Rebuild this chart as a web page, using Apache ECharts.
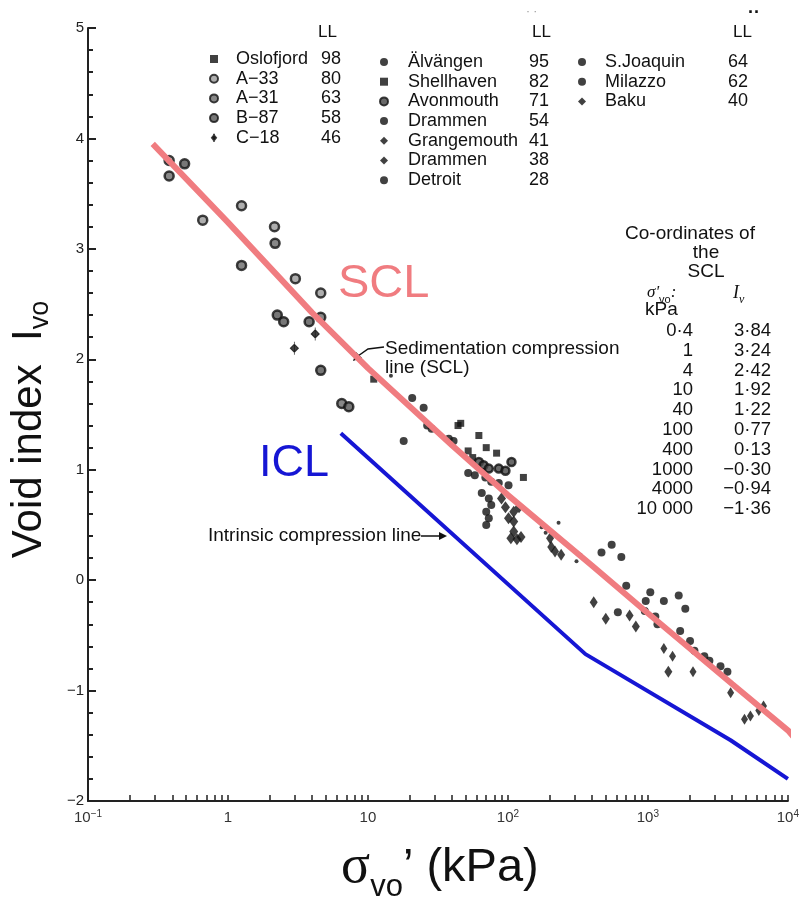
<!DOCTYPE html>
<html>
<head>
<meta charset="utf-8">
<title>Void index - SCL / ICL</title>
<script src="https://cdn.jsdelivr.net/npm/echarts@6/dist/echarts.min.js"></script>
<style>
  html, body { margin: 0; padding: 0; background: #fff; }
  #chart { width: 802px; height: 908px; }
</style>
</head>
<body>
<div id="chart"></div>
<script>
// ---- data ----
const soilNames = ['Oslofjord', 'A−33', 'A−31', 'B−87', 'C−18',
  'Älvängen', 'Shellhaven', 'Avonmouth', 'Drammen', 'Grangemouth', 'Drammen ', 'Detroit',
  'S.Joaquin', 'Milazzo', 'Baku'];
const soilLL = [98, 80, 63, 58, 46, 95, 82, 71, 54, 41, 38, 28, 64, 62, 40];

const oslofjordPts = [[11, 1.82], [44, 1.40], [46, 1.42], [129, 0.93]];
const a33Pts = [[0.38, 3.80], [0.66, 3.26], [1.25, 3.39], [2.15, 3.20], [3.03, 2.73], [4.6, 2.60]];
const a31Pts = [[0.38, 3.66], [1.25, 2.85], [2.17, 3.05], [4.6, 2.38], [6.5, 1.60]];
const b87Pts = [[0.49, 3.77], [2.25, 2.40], [2.5, 2.34], [3.8, 2.34], [4.6, 1.90], [7.3, 1.57]];
const c18Pts = [[2.98, 2.10], [4.2, 2.23]];
const alvangenPts = [[18, 1.26], [20.7, 1.65], [25, 1.56], [26.5, 1.40], [28.5, 1.37], [37.8, 1.28], [40.9, 1.26]];
const shellhavenPts = [[62, 1.31], [70, 1.20], [83, 1.15], [52, 1.17], [56, 1.11]];
const avonmouthPts = [[62, 1.07], [67, 1.04], [73, 1.01], [86, 1.01], [96, 0.99], [106, 1.07]];
const drammen54Pts = [[52, 0.97], [58, 0.95], [69, 0.93], [76, 0.89], [86, 0.88], [101, 0.86],
  [65, 0.79], [73, 0.74], [76, 0.68], [70, 0.62], [73, 0.56], [70, 0.50]];
const grangemouthPts = [[90, 0.74], [96, 0.66], [110, 0.62], [120, 0.66], [101, 0.56], [110, 0.53],
  [110, 0.44], [105, 0.38], [124, 0.39], [116, 0.37]];
const drammen38Pts = [[200, 0.38], [204, 0.30], [217, 0.26], [240, 0.23], [410, -0.20], [500, -0.35],
  [1400, -0.83], [740, -0.32], [820, -0.42]];
const detroitPts = [[14.6, 1.85], [174, 0.48], [186, 0.43], [230, 0.52], [309, 0.17], [330, 0.23]];
const sJoaquinPts = [[466, 0.25], [551, 0.32], [646, 0.21], [700, -0.05], [1300, -0.19], [1660, -0.14],
  [1850, -0.26], [2000, -0.55], [2150, -0.64]];
const milazzoPts = [[610, -0.29], [965, -0.19], [1040, -0.11], [950, -0.28], [1130, -0.33], [1170, -0.40],
  [1700, -0.46], [2530, -0.69], [2750, -0.73], [3300, -0.78], [3700, -0.83]];
const bakuPts = [[1300, -0.62], [1500, -0.69], [2100, -0.83], [3900, -1.02], [4900, -1.26], [5400, -1.23],
  [6200, -1.18], [6700, -1.14]];

const soilPoints = [oslofjordPts, a33Pts, a31Pts, b87Pts, c18Pts, alvangenPts, shellhavenPts,
  avonmouthPts, drammen54Pts, grangemouthPts, drammen38Pts, detroitPts, sJoaquinPts, milazzoPts, bakuPts];

// co-ordinates of the SCL (table in the figure)
const sclStress = [0.4, 1, 4, 10, 40, 100, 400, 1000, 4000, 10000];
const sclIv = [3.84, 3.24, 2.42, 1.92, 1.22, 0.77, 0.13, -0.30, -0.94, -1.36];
// ends of the drawn (pink) SCL
const sclStart = [0.29, 3.95];
const sclEnd = [11000, -1.42];
const iclLine = [[6.4, 1.33], [358, -0.67], [3900, -1.45], [10000, -1.80]];

const xTickValues = [0.1, 1, 10, 100, 1000, 10000];
const xTickLabels = ['10^−1', '1', '10', '10^2', '10^3', '10^4'];
const yTickLabels = ['−2', '−1', '0', '1', '2', '3', '4', '5'];

// ---- styles ----
const ink = '#111';
const pink = '#f07c80';
const blue = '#1616d4';
const FONT = 'Liberation Sans, Arial, sans-serif';

const solid = { color: ink };
const soilStyles = [
  { symbol: 'rect', size: 7, style: solid },
  { symbol: 'circle', size: 9, style: { color: '#9a9a9a', borderColor: ink, borderWidth: 2.5 } },
  { symbol: 'circle', size: 9, style: { color: '#6a6a6a', borderColor: ink, borderWidth: 2.5 } },
  { symbol: 'circle', size: 9, style: { color: '#555', borderColor: ink, borderWidth: 2.5 } },
  { symbol: 'path://M5,0V16M5,3L9,8L5,13L1,8Z', size: [8, 13], style: { color: ink, borderColor: ink, borderWidth: 1 } },
  { symbol: 'circle', size: 8, style: solid },
  { symbol: 'rect', size: 7, style: solid },
  { symbol: 'circle', size: 8, style: { color: '#444', borderColor: ink, borderWidth: 2.5 } },
  { symbol: 'circle', size: 8, style: solid },
  { symbol: 'diamond', size: [9, 12], style: solid },
  { symbol: 'diamond', size: [8, 12], style: solid },
  { symbol: 'circle', size: 4, style: solid },
  { symbol: 'circle', size: 8, style: solid },
  { symbol: 'circle', size: 8, style: solid },
  { symbol: 'diamond', size: [7, 11], style: solid }
];

const xMinorTicks = [];
for (let d = 0; d < 4 + 1; d++) {
  const base = Math.pow(10, d - 1);
  for (let k = 1; k <= 9; k++) xMinorTicks.push(+(base * k).toPrecision(3));
}
xMinorTicks.push(10000);

function richTick(t) {
  const p = t.split('^');
  return p.length > 1 ? '{b|' + p[0] + '}{s|' + p[1] + '}' : '{b|' + p[0] + '}';
}

function fmtNum(v, dec) {
  let s = dec ? Math.abs(v).toFixed(dec) : String(Math.abs(v));
  if (Math.abs(v) >= 10000) s = s.replace(/(\d{2})(\d{3})$/, '$1 $2');
  return (v < 0 ? '−' : '') + s.replace('.', '·');
}

const chart = echarts.init(document.getElementById('chart'));

function legendCol(names, left, top, nameWidth, pad) {
  const txt = { fontSize: 18, lineHeight: 18, color: ink, fontFamily: FONT };
  return {
    orient: 'vertical', left: left, top: top, padding: 0, itemGap: 1.7,
    itemWidth: 8, itemHeight: 8, selectedMode: false,
    data: names,
    formatter: n => '{n|' + n + '}{v|' + soilLL[soilNames.indexOf(n)] + '}',
    textStyle: {
      rich: {
        n: Object.assign({ width: nameWidth, padding: [0, 0, 0, pad] }, txt),
        v: txt
      }
    }
  };
}

const scatterSeries = soilNames.map((name, i) => ({
  name: name,
  type: 'scatter',
  data: soilPoints[i],
  symbol: soilStyles[i].symbol,
  symbolSize: soilStyles[i].size,
  itemStyle: soilStyles[i].style,
  z: 2
}));

// pink SCL: drawn ends + tabulated co-ordinates (the drawn line starts above the 0.4 kPa entry)
const sclLine = [sclStart]
  .concat(sclStress.map((s, i) => [s, sclIv[i]]).filter(p => p[0] >= 1), [sclEnd]);

const textStyle = (text, x, y, size, extra) => ({
  type: 'text', x: x, y: y, silent: true,
  style: Object.assign({ text: text, fontSize: size, fontFamily: FONT, fill: ink,
    align: 'left', verticalAlign: 'middle' }, extra || {})
});

const option = {
  backgroundColor: '#fff',
  animation: false,
  grid: { left: 88, right: 12, top: 28, bottom: 99, containLabel: false },
  legend: [
    legendCol(soilNames.slice(0, 5), 209, 50, 85, 13),
    legendCol(soilNames.slice(5, 12), 379, 53, 121, 15),
    legendCol(soilNames.slice(12), 578, 53, 123, 14)
  ],
  xAxis: {
    type: 'log', logBase: 10, min: 0.1, max: 10000,
    axisLine: { onZero: false, lineStyle: { color: '#222', width: 2 } },
    axisTick: { show: true, inside: true, length: 6, customValues: xMinorTicks, lineStyle: { color: '#222', width: 1.5 } },
    splitLine: { show: false },
    axisLabel: {
      customValues: xTickValues, margin: 8,
      formatter: v => richTick(xTickLabels[Math.round(Math.log10(v)) + 1]),
      rich: {
        b: { fontSize: 15, fontFamily: FONT, color: '#333', lineHeight: 18 },
        s: { fontSize: 10, fontFamily: FONT, color: '#333', verticalAlign: 'top', lineHeight: 12 }
      }
    },
    name: '{s|σ}{b|vo}{a|’ (kPa)}',
    nameLocation: 'middle', nameGap: 38,
    nameTextStyle: {
      padding: [0, 0, 0, 4],
      rich: {
        s: { fontSize: 54, fontFamily: 'Liberation Serif, serif', color: ink, lineHeight: 58 },
        b: { fontSize: 31, fontFamily: FONT, color: ink, verticalAlign: 'bottom', lineHeight: 31, padding: [0, 0, -6, 0] },
        a: { fontSize: 47, fontFamily: FONT, color: ink, lineHeight: 58 }
      }
    }
  },
  yAxis: {
    type: 'value', min: -2, max: 5, interval: 1,
    axisLine: { show: true, lineStyle: { color: '#222', width: 2 } },
    axisTick: { show: true, inside: true, length: 8, lineStyle: { color: '#222', width: 2 } },
    minorTick: { show: true, splitNumber: 5, length: 5, lineStyle: { color: '#222', width: 2 } },
    splitLine: { show: false },
    axisLabel: {
      margin: 4, fontSize: 15, fontFamily: FONT, color: '#222',
      formatter: v => yTickLabels[v + 2]
    },
    name: '{a|Void index  I}{b|vo}',
    nameLocation: 'middle', nameRotate: 90, nameGap: 34,
    nameTextStyle: {
      padding: [0, 30, 0, 0],
      rich: {
        a: { fontSize: 42, fontFamily: FONT, color: ink, lineHeight: 50 },
        b: { fontSize: 27, fontFamily: FONT, color: ink, verticalAlign: 'bottom', lineHeight: 27 }
      }
    }
  },
  series: scatterSeries.concat([
    {
      name: 'SCL', type: 'line', data: sclLine, symbol: 'none', z: 5,
      lineStyle: { color: pink, width: 6 }
    },
    {
      name: 'ICL', type: 'line', data: iclLine, symbol: 'none', z: 5,
      lineStyle: { color: blue, width: 4 }
    }
  ]),
  graphic: [
    // LL headers
    textStyle('LL', 318, 32, 17),
    textStyle('LL', 532, 32, 17),
    textStyle('LL', 733, 32, 17),
    textStyle('· ·', 526, 12, 12, { fill: '#999' }),
    textStyle('··', 748, 13, 18, { fontWeight: 'bold' }),
    // big labels
    textStyle('SCL', 338, 284, 47, { fill: pink }),
    textStyle('ICL', 259, 464, 45, { fill: blue }),
    // annotations
    textStyle('Sedimentation compression\nline (SCL)', 385, 358, 19, { lineHeight: 19 }),
    { type: 'polyline', silent: true, shape: { points: [[384, 347], [368, 349], [358, 356]] }, style: { stroke: ink, lineWidth: 1.5, fill: null } },
    { type: 'polygon', silent: true, shape: { points: [[353, 361], [356, 352], [362, 358]] }, style: { fill: ink } },
    textStyle('Intrinsic compression line', 208, 536, 19),
    { type: 'line', silent: true, shape: { x1: 421, y1: 536, x2: 440, y2: 536 }, style: { stroke: ink, lineWidth: 1.5 } },
    { type: 'polygon', silent: true, shape: { points: [[447, 536], [439, 532], [439, 540]] }, style: { fill: ink } },
    // table of SCL co-ordinates
    textStyle('Co-ordinates of', 690, 234, 19, { align: 'center' }),
    textStyle('the', 706, 253, 19, { align: 'center' }),
    textStyle('SCL', 706, 272, 19, { align: 'center' }),
    textStyle("{a|σ'}{b|vo}{a|:}", 647, 293, 17, {
      rich: { a: { fontSize: 17, fontFamily: 'Liberation Serif, serif', fontStyle: 'italic', fill: ink },
              b: { fontSize: 11, fontFamily: FONT, fill: ink, verticalAlign: 'bottom', padding: [0, 0, -4, 0] } }
    }),
    textStyle('{a|I}{b|v}', 733, 293, 17, {
      rich: { a: { fontSize: 18, fontFamily: 'Liberation Serif, serif', fontStyle: 'italic', fill: ink },
              b: { fontSize: 12, fontFamily: 'Liberation Serif, serif', fontStyle: 'italic', fill: ink, verticalAlign: 'bottom', padding: [0, 0, -4, 0] } }
    }),
    textStyle('kPa', 645, 310, 19),
    textStyle(sclStress.map(v => fmtNum(v)).join('\n'), 693, 321, 18.5, { align: 'right', verticalAlign: 'top', lineHeight: 19.8 }),
    textStyle(sclIv.map(v => fmtNum(v, 2)).join('\n'), 771, 321, 18.5, { align: 'right', verticalAlign: 'top', lineHeight: 19.8 })
  ]
};

chart.setOption(option);
window.addEventListener('resize', () => chart.resize());
</script>
</body>
</html>
